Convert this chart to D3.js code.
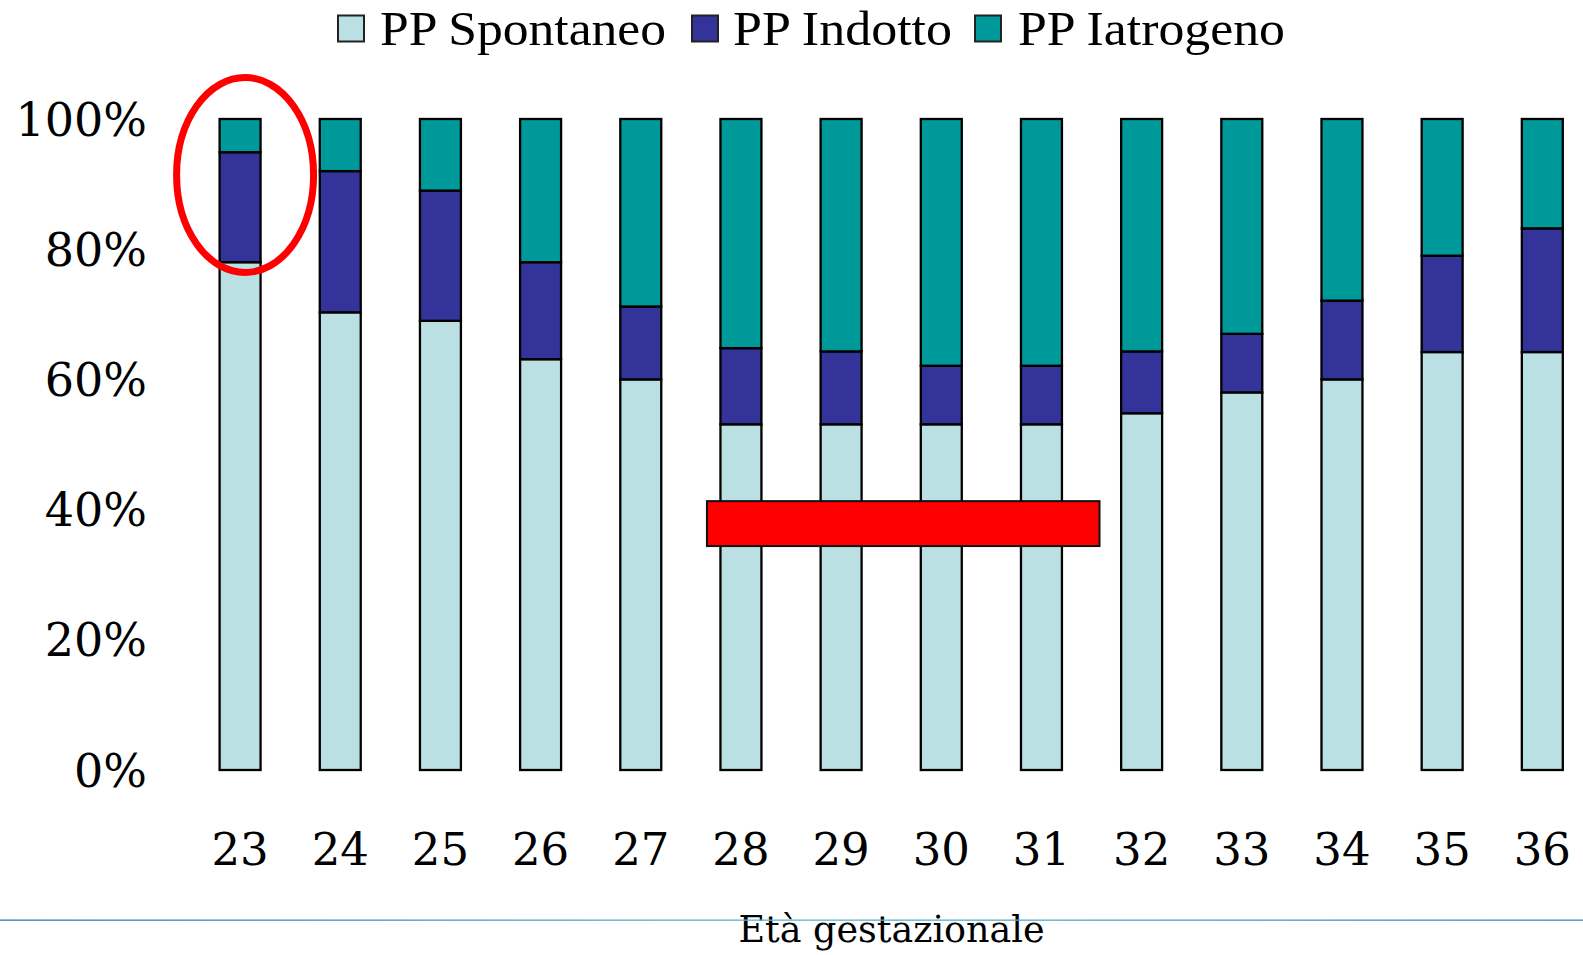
<!DOCTYPE html>
<html>
<head>
<meta charset="utf-8">
<script src="https://cdn.jsdelivr.net/npm/d3@7"></script>
<style>
  body { margin: 0; background: #fff; }
  svg { display: block; }
</style>
</head>
<body>
<div id="chart"></div>
<script>
// data (percent of each week)
const weeks = ["23", "24", "25", "26", "27", "28", "29", "30", "31", "32", "33", "34", "35", "36"];
const spontaneo = [78, 70.3, 69, 63.1, 60, 53.1, 53.1, 53.1, 53.1, 54.8, 58, 60, 64.2, 64.2];
const indotto = [16.9, 21.7, 20, 14.9, 11.2, 11.7, 11.2, 9, 9, 9.5, 9, 12.1, 14.8, 19];
const iatrogeno = [5.1, 8, 11, 22, 28.8, 35.2, 35.7, 37.9, 37.9, 35.7, 33, 27.9, 21, 16.8];
const seriesNames = ["PP Spontaneo", "PP Indotto", "PP Iatrogeno"];
const yTicks = [0, 20, 40, 60, 80, 100];
const xTitle = "Età gestazionale";

const colors = ["#BBE0E3", "#333399", "#009999"];

// set the dimensions of the graph
const width = 1583;
const height = 955;

const svg = d3.select("#chart")
  .append("svg")
  .attr("width", width)
  .attr("height", height);

// scales
const x = d3.scaleBand()
  .domain(weeks)
  .range([190, 1592.4])
  .paddingInner(0.591)
  .paddingOuter(0.2955);

const y = d3.scaleLinear()
  .domain([0, 100])
  .range([770, 119]);

// build the table for the stack
const table = weeks.map((w, i) => ({
  week: w,
  "PP Spontaneo": spontaneo[i],
  "PP Indotto": indotto[i],
  "PP Iatrogeno": iatrogeno[i]
}));

const stacked = d3.stack().keys(seriesNames)(table);

// stacked bars
svg.append("g")
  .selectAll("g")
  .data(stacked)
  .join("g")
  .attr("fill", (d, i) => colors[i])
  .selectAll("rect")
  .data(d => d)
  .join("rect")
  .attr("x", d => x(d.data.week))
  .attr("y", d => y(d[1]))
  .attr("width", x.bandwidth())
  .attr("height", d => y(d[0]) - y(d[1]))
  .attr("stroke", "#000")
  .attr("stroke-width", 2.3);

// y axis
const yAxis = svg.append("g")
  .attr("transform", "translate(147,0)")
  .call(d3.axisLeft(y).tickValues(yTicks).tickSize(0).tickPadding(0).tickFormat(d => d + "%"));
yAxis.select(".domain").remove();
yAxis.selectAll("text")
  .attr("x", 0)
  .attr("dy", 16)
  .style("font-family", "'DejaVu Serif', serif")
  .style("font-size", "46px")
  .attr("fill", "#000");

// x axis
const xAxis = svg.append("g")
  .attr("transform", "translate(0,865)")
  .call(d3.axisBottom(x).tickSize(0).tickPadding(0));
xAxis.select(".domain").remove();
xAxis.selectAll("text")
  .attr("y", 0)
  .attr("dy", 0)
  .style("font-family", "'DejaVu Serif', serif")
  .style("font-size", "45px")
  .attr("fill", "#000");

// x axis title
svg.append("text")
  .attr("x", 891.5)
  .attr("y", 942)
  .attr("text-anchor", "middle")
  .style("font-family", "'DejaVu Serif', serif")
  .style("font-size", "36.5px")
  .attr("fill", "#000")
  .text(xTitle);

// thin line across the bottom of the slide
const grad = svg.append("defs")
  .append("linearGradient")
  .attr("id", "lineGrad")
  .attr("x1", "0%").attr("x2", "100%");
grad.append("stop").attr("offset", "0%").attr("stop-color", "#2b7bb5");
grad.append("stop").attr("offset", "50%").attr("stop-color", "#5cb8cc");
grad.append("stop").attr("offset", "100%").attr("stop-color", "#3a8abf");

svg.append("rect")
  .attr("x", 0)
  .attr("y", 919.5)
  .attr("width", width)
  .attr("height", 1.3)
  .attr("fill", "url(#lineGrad)");

// legend
const legendSwatch = [338, 692, 975];
const legendText = [380, 733, 1018];
const legendWidth = [286, 219, 267];

const legend = svg.append("g")
  .selectAll("g")
  .data(seriesNames)
  .join("g");

legend.append("rect")
  .attr("x", (d, i) => legendSwatch[i])
  .attr("y", 15.5)
  .attr("width", 26)
  .attr("height", 26)
  .attr("fill", (d, i) => colors[i])
  .attr("stroke", "#222")
  .attr("stroke-width", 2);

legend.append("text")
  .attr("x", (d, i) => legendText[i])
  .attr("y", 45)
  .attr("textLength", (d, i) => legendWidth[i])
  .attr("lengthAdjust", "spacingAndGlyphs")
  .style("font-family", "'Liberation Serif', 'Times New Roman', serif")
  .style("font-size", "49px")
  .attr("fill", "#000")
  .text(d => d);

// annotations: red ellipse round week 23 and red bar over weeks 28-31
const step = x.step();

svg.append("ellipse")
  .attr("cx", x("23") + x.bandwidth() / 2 + 5)
  .attr("cy", y(91.4))
  .attr("rx", 68.5)
  .attr("ry", 97.5)
  .attr("fill", "none")
  .attr("stroke", "#ff0000")
  .attr("stroke-width", 7);

svg.append("rect")
  .attr("x", x("28") - 0.135 * step)
  .attr("y", y(41.3))
  .attr("width", (x("31") + x.bandwidth() + 0.375 * step) - (x("28") - 0.135 * step))
  .attr("height", y(34.4) - y(41.3))
  .attr("fill", "#ff0000")
  .attr("stroke", "#111")
  .attr("stroke-width", 2);
</script>
</body>
</html>
